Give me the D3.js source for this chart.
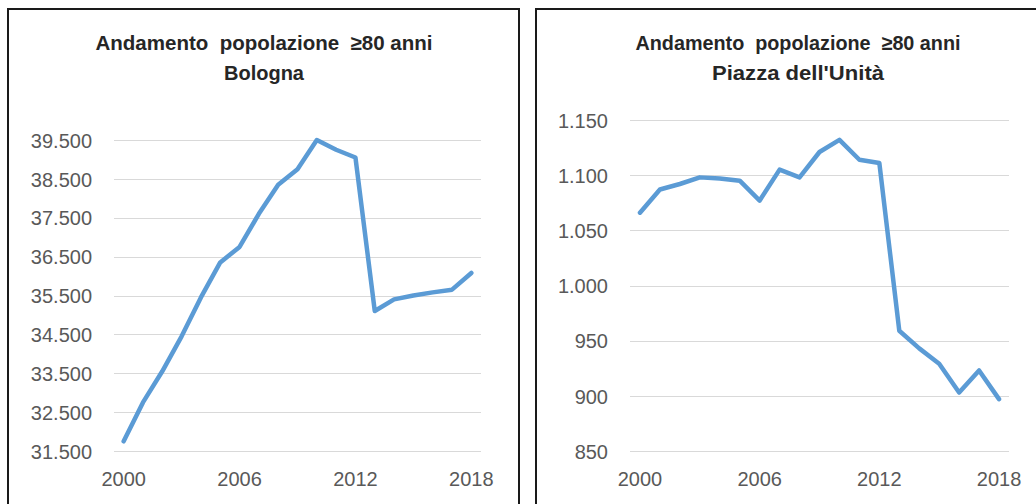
<!DOCTYPE html>
<html>
<head>
<meta charset="utf-8">
<script src="https://cdn.jsdelivr.net/npm/d3@7"></script>
<style>
  body { margin: 0; background: #fff; }
  svg { display: block; }
  .tick text { font-family: "Liberation Sans", Arial, sans-serif; font-size: 20px; fill: #595959; }
  .title { font-family: "Liberation Sans", Arial, sans-serif; font-weight: bold; font-size: 20.5px; fill: #262626; white-space: pre; }
</style>
</head>
<body>
<div id="chart"></div>
<script>
// years on the category axis
var years = d3.range(2000, 2019);
var yearLabels = [2000, 2006, 2012, 2018];

// population aged 80+
var bologna = [31750, 32750, 33550, 34450, 35450, 36350, 36750, 37600, 38350, 38750,
               39500, 39250, 39050, 35100, 35400, 35500, 35580, 35650, 36080];
var piazza = [1066, 1087, 1092, 1098, 1097, 1095, 1077, 1105, 1098, 1121,
              1132, 1114, 1111, 959, 943, 929, 903, 923, 897];

var bolognaTicks = [31500, 32500, 33500, 34500, 35500, 36500, 37500, 38500, 39500];
var piazzaTicks = [850, 900, 950, 1000, 1050, 1100, 1150];

var fmt = d3.formatLocale({decimal: ",", thousands: ".", grouping: [3], currency: ["", "€"]}).format(",");

var svg = d3.select("#chart").append("svg")
  .attr("width", 1036)
  .attr("height", 504);

function drawPanel(opts) {
  var g = svg.append("g");

  // frame
  g.append("rect")
    .attr("x", opts.box[0]).attr("y", opts.box[1])
    .attr("width", opts.box[2]).attr("height", opts.box[3])
    .attr("fill", "#fff")
    .attr("stroke", "#1a1a1a")
    .attr("stroke-width", 2);

  // title, two lines
  g.append("text").attr("class", "title")
    .attr("x", opts.cx).attr("y", 50)
    .attr("text-anchor", "middle")
    .attr("textLength", opts.titleWidth).attr("lengthAdjust", "spacingAndGlyphs")
    .text("Andamento  popolazione  \u226580 anni");
  g.append("text").attr("class", "title")
    .attr("x", opts.cx).attr("y", 80)
    .attr("text-anchor", "middle")
    .attr("textLength", opts.subWidth).attr("lengthAdjust", "spacingAndGlyphs")
    .text(opts.sub);

  var x = d3.scaleBand().domain(years).range(opts.xr);
  var y = d3.scaleLinear().domain(opts.yd).range(opts.yr);

  // gridlines
  g.append("g")
    .selectAll("line").data(opts.ticks).join("line")
    .attr("x1", opts.xr[0]).attr("x2", opts.xr[1])
    .attr("y1", function(d) { return Math.round(y(d)) + 0.5; })
    .attr("y2", function(d) { return Math.round(y(d)) + 0.5; })
    .attr("stroke", "#d9d9d9")
    .attr("stroke-width", 1);

  var yAxis = g.append("g")
    .attr("transform", "translate(" + (opts.xr[0] - 22) + ",0)")
    .call(d3.axisLeft(y).tickValues(opts.ticks).tickFormat(fmt).tickSize(0).tickPadding(0));
  yAxis.select(".domain").remove();
  yAxis.selectAll("text").attr("dy", "0.36em");

  var xAxis = g.append("g")
    .attr("transform", "translate(0," + (opts.yr[0] + 21) + ")")
    .call(d3.axisBottom(x).tickValues(yearLabels).tickSize(0).tickPadding(0));
  xAxis.select(".domain").remove();
  xAxis.selectAll("text").attr("dy", "0.71em");

  var line = d3.line()
    .x(function(d, i) { return x(years[i]) + x.bandwidth() / 2; })
    .y(function(d) { return y(d); });

  g.append("path")
    .datum(opts.values)
    .attr("d", line)
    .attr("fill", "none")
    .attr("stroke", "#5b9bd5")
    .attr("stroke-width", 4.5)
    .attr("stroke-linejoin", "round")
    .attr("stroke-linecap", "round");
}

drawPanel({
  box: [8, 9, 511, 510],
  cx: 264, titleWidth: 337, sub: "Bologna", subWidth: 80,
  xr: [114, 481], yd: [31500, 39500], yr: [451, 140],
  ticks: bolognaTicks, values: bologna
});

drawPanel({
  box: [536, 9, 520, 510],
  cx: 798, titleWidth: 325, sub: "Piazza dell'Unit\u00e0", subWidth: 172,
  xr: [630, 1009], yd: [850, 1150], yr: [451, 120],
  ticks: piazzaTicks, values: piazza
});
</script>
</body>
</html>
